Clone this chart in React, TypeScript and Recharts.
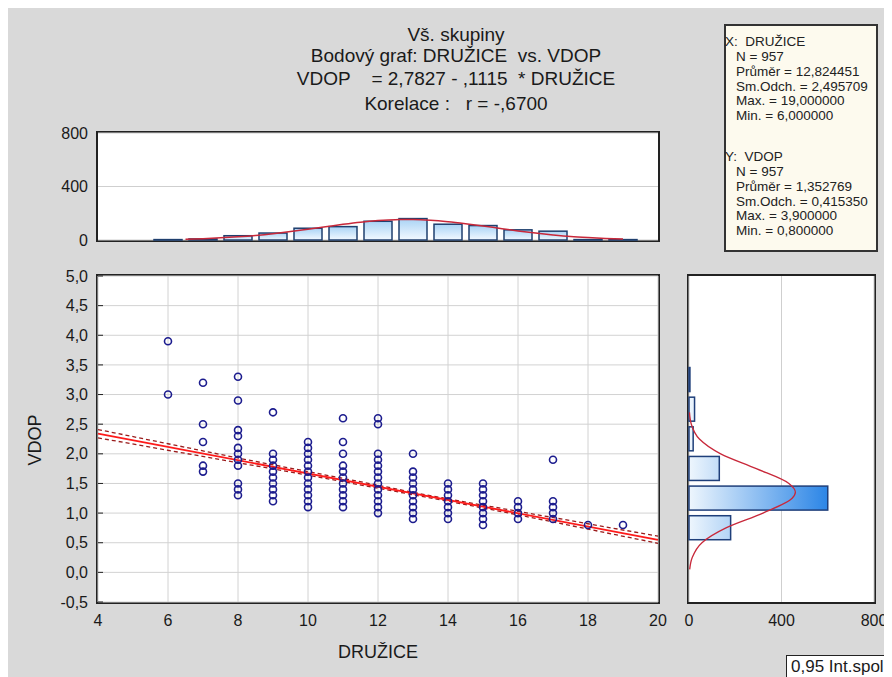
import { ComposedChart, Scatter, Line, Bar, XAxis, YAxis, CartesianGrid } from 'recharts';

const FONT = 'Arial, "Liberation Sans", sans-serif';

// title block
const titleLines = [
  'Vš. skupiny',
  'Bodový graf: DRUŽICE  vs. VDOP',
  'VDOP    = 2,7827 - ,1115  * DRUŽICE',
  'Korelace :   r = -,6700',
];

// descriptive stats box
const statsX = ['N = 957', 'Průměr = 12,824451', 'Sm.Odch. = 2,495709', 'Max. = 19,000000', 'Min. = 6,000000'];
const statsY = ['N = 957', 'Průměr = 1,352769', 'Sm.Odch. = 0,415350', 'Max. = 3,900000', 'Min. = 0,800000'];

// scatter: number of satellites vs VDOP (distinct values per column)
const satellites = [6, 7, 8, 9, 10, 11, 12, 13, 14, 15, 16, 17, 18, 19];
const vdopColumns = [
  [3.9, 3.0],
  [3.2, 2.5, 2.2, 1.8, 1.7],
  [3.3, 2.9, 2.4, 2.3, 2.1, 2.0, 1.9, 1.8, 1.5, 1.4, 1.3],
  [2.7, 2.0, 1.9, 1.8, 1.7, 1.6, 1.5, 1.4, 1.3, 1.2],
  [2.2, 2.1, 2.0, 1.9, 1.8, 1.7, 1.6, 1.5, 1.4, 1.3, 1.2, 1.1],
  [2.6, 2.2, 2.0, 1.8, 1.7, 1.6, 1.5, 1.4, 1.3, 1.2, 1.1],
  [2.6, 2.5, 2.0, 1.9, 1.8, 1.7, 1.6, 1.5, 1.4, 1.3, 1.2, 1.1, 1.0],
  [2.0, 1.7, 1.6, 1.5, 1.4, 1.3, 1.2, 1.1, 1.0, 0.9],
  [1.5, 1.4, 1.3, 1.2, 1.1, 1.0, 0.9],
  [1.5, 1.4, 1.3, 1.2, 1.1, 1.0, 0.9, 0.8],
  [1.2, 1.1, 1.0, 0.9],
  [1.9, 1.2, 1.1, 1.0, 0.9],
  [0.8],
  [0.8],
];

// regression line and 0.95 confidence band
const regX = [4, 20];
const regY = [2.34, 0.55];
const bandX = [4, 6, 8, 10, 12, 13, 14, 16, 18, 20];
const bandHi = [2.41, 2.17, 1.93, 1.70, 1.47, 1.35, 1.24, 1.03, 0.82, 0.61];
const bandLo = [2.27, 2.06, 1.85, 1.64, 1.42, 1.31, 1.20, 0.97, 0.73, 0.49];

// top histogram (DRUŽICE)
const satHistX = [6, 7, 8, 9, 10, 11, 12, 13, 14, 15, 16, 17, 18, 19];
const satHistN = [3, 8, 32, 52, 88, 100, 140, 160, 118, 108, 76, 66, 3, 3];
const satCurveX = [6.5, 7, 7.5, 8, 8.5, 9, 9.5, 10, 10.5, 11, 11.5, 12, 12.5, 13, 13.5, 14, 14.5, 15, 15.5, 16, 16.5, 17, 17.5, 18, 18.5, 19];
const satCurveN = [6, 10, 16, 24, 34, 47, 63, 81, 99, 117, 133, 145, 152, 153, 148, 137, 122, 105, 86, 68, 52, 38, 26, 18, 12, 7];

// right histogram (VDOP)
const vdopBinMid = [3.25, 2.75, 2.25, 1.75, 1.25, 0.75];
const vdopBinN = [4, 24, 18, 131, 600, 180];
const vdopCurveV = [0.05, 0.25, 0.5, 0.75, 1.0, 1.25, 1.35, 1.5, 1.75, 2.0, 2.25, 2.5, 2.7];
const vdopCurveN = [3, 14, 56, 160, 320, 446, 460, 432, 291, 137, 45, 10, 2];

// axis ticks
const xLabelTicks = [4, 6, 8, 10, 12, 14, 16, 18, 20];
const xMinorTicks = [4, 5, 6, 7, 8, 9, 10, 11, 12, 13, 14, 15, 16, 17, 18, 19, 20];
const yTicks = [-0.5, 0, 0.5, 1, 1.5, 2, 2.5, 3, 3.5, 4, 4.5, 5];
const countTicks = [0, 400, 800];

const points = satellites.flatMap((s, i) => vdopColumns[i].map((v) => ({ x: s, y: v })));
const regression = regX.map((x, i) => ({ x, y: regY[i] }));
const band = bandX.map((x, i) => ({ x, hi: bandHi[i], lo: bandLo[i] }));
const satHist = satHistX.map((x, i) => ({ x, n: satHistN[i] }));
const satCurve = satCurveX.map((x, i) => ({ x, n: satCurveN[i] }));
const vdopHist = vdopBinMid.map((v, i) => ({ v, n: vdopBinN[i] }));
const vdopCurve = vdopCurveV.map((v, i) => ({ v, n: vdopCurveN[i] }));

const comma = (v: number) => v.toFixed(1).replace('.', ',');
const tickStyle = { fontSize: 16, fill: '#1a1a1a', fontFamily: FONT };

const Ring = (p: any) => (
  <circle cx={p.cx} cy={p.cy} r={3.5} fill="none" stroke="#1c1c8e" strokeWidth={1.6} />
);

// bars keep the library's centre and length; only the thickness is fixed
const TopBar = (p: any) => (
  <rect x={p.x + p.width / 2 - 14} y={p.y} width={28} height={Math.max(p.height, 0.5)} fill="url(#gTop)" stroke="#1f3f6e" strokeWidth={1.5} />
);
const SideBar = (p: any) => {
  const cy = p.y + p.height / 2;
  return <rect x={p.x} y={cy - 12} width={Math.max(p.width, 0.5)} height={24} fill="url(#gRight)" stroke="#1f3f7a" strokeWidth={1.5} />;
};

function Frame({ left, top, width, height }: { left: number; top: number; width: number; height: number }) {
  return (
    <div
      style={{
        position: 'absolute', left: left - 2, top: top - 2, width: width + 4, height: height + 4,
        boxSizing: 'border-box', border: '2px solid #222', background: '#fff',
      }}
    />
  );
}

export default function App() {
  return (
    <div style={{ position: 'relative', width: 884, height: 669, background: '#d9d9d9', overflow: 'hidden', fontFamily: FONT, color: '#1a1a1a' }}>
      {titleLines.map((t, i) => (
        <div
          key={t}
          style={{ position: 'absolute', left: 448, top: [17, 38, 61, 86][i], transform: 'translateX(-50%)', fontSize: 19, whiteSpace: 'pre', lineHeight: '20px' }}
        >
          {t}
        </div>
      ))}

      {/* stats box */}
      <div style={{ position: 'absolute', left: 716, top: 16, width: 154, height: 228, boxSizing: 'border-box', border: '2px solid #333', background: '#fdfaee', fontSize: 13.5, lineHeight: '15px', whiteSpace: 'pre', color: '#222' }}>
        <div style={{ position: 'absolute', left: -1, top: 8 }}>{'X:  DRUŽICE'}</div>
        {statsX.map((s, i) => (
          <div key={'x' + i} style={{ position: 'absolute', left: 10, top: 23 + i * 14.8 }}>{s}</div>
        ))}
        <div style={{ position: 'absolute', left: -1, top: 123 }}>{'Y:  VDOP'}</div>
        {statsY.map((s, i) => (
          <div key={'y' + i} style={{ position: 'absolute', left: 10, top: 138 + i * 14.8 }}>{s}</div>
        ))}
      </div>

      {/* frames */}
      <Frame left={90} top={125} width={560} height={107} />
      <Frame left={90} top={268} width={560} height={326} />
      <Frame left={681} top={268} width={185} height={326} />

      {/* top histogram */}
      <div style={{ position: 'absolute', left: 0, top: 110 }}>
        <ComposedChart width={660} height={140} data={satHist} margin={{ top: 15, right: 10, bottom: 18, left: 0 }}>
          <defs>
            <linearGradient id="gTop" x1="0" y1="0" x2="0" y2="1">
              <stop offset="0" stopColor="#a9d3f5" />
              <stop offset="1" stopColor="#f3f9ff" />
            </linearGradient>
          </defs>
          <CartesianGrid vertical={false} stroke="#cfcfcf" />
          <XAxis xAxisId={0} type="number" dataKey="x" domain={[4, 20]} ticks={xLabelTicks} tick={false} axisLine={false} tickSize={-5} height={0} stroke="#222" />
          <XAxis xAxisId="top" orientation="top" type="number" dataKey="x" domain={[4, 20]} ticks={xLabelTicks} tick={false} axisLine={false} tickSize={5} mirror height={0} stroke="#222" />
          <YAxis type="number" domain={[0, 800]} ticks={countTicks} interval={0} width={90} tickLine={false} axisLine={false} tickSize={0} tickMargin={10} tick={tickStyle} />
          <Bar dataKey="n" shape={TopBar} isAnimationActive={false} />
          <Line data={satCurve} dataKey="n" type="monotone" stroke="#c8283a" strokeWidth={1.5} dot={false} activeDot={false} isAnimationActive={false} />
        </ComposedChart>
      </div>

      {/* scatter plot */}
      <div style={{ position: 'absolute', left: 0, top: 250 }}>
        <ComposedChart width={660} height={374} margin={{ top: 18, right: 10, bottom: 0, left: 0 }}>
          <CartesianGrid stroke="#d2d2d2" />
          <XAxis xAxisId="minor" type="number" dataKey="x" domain={[4, 20]} ticks={xMinorTicks} tick={false} axisLine={false} tickSize={-5} height={0} stroke="#222" />
          <XAxis xAxisId={0} type="number" dataKey="x" domain={[4, 20]} ticks={xLabelTicks} interval={0} height={30} tickLine={false} axisLine={false} tickSize={0} tickMargin={13} tick={tickStyle} />
          <YAxis yAxisId={0} type="number" domain={[-0.5, 5]} ticks={yTicks} interval={0} width={90} axisLine={false} tickSize={-5} tickMargin={15} tickFormatter={comma} tick={tickStyle} stroke="#222" />
          <YAxis yAxisId="right" orientation="right" type="number" domain={[-0.5, 5]} ticks={yTicks} width={0} mirror tick={false} axisLine={false} tickSize={5} stroke="#222" />
          <Line data={band} dataKey="hi" type="monotone" stroke="#9a1c1c" strokeWidth={1.3} strokeDasharray="4 3" dot={false} activeDot={false} isAnimationActive={false} />
          <Line data={band} dataKey="lo" type="monotone" stroke="#9a1c1c" strokeWidth={1.3} strokeDasharray="4 3" dot={false} activeDot={false} isAnimationActive={false} />
          <Line data={regression} dataKey="y" type="linear" stroke="#ff1a1a" strokeWidth={1.8} dot={false} activeDot={false} isAnimationActive={false} />
          <Scatter data={points} dataKey="y" shape={Ring} isAnimationActive={false} />
        </ComposedChart>
      </div>

      {/* right histogram */}
      <div style={{ position: 'absolute', left: 640, top: 250 }}>
        <ComposedChart layout="vertical" width={244} height={374} data={vdopHist} margin={{ top: 18, right: 18, bottom: 0, left: 41 }}>
          <defs>
            <linearGradient id="gRight" gradientUnits="userSpaceOnUse" x1={41} y1={0} x2={180} y2={0}>
              <stop offset="0" stopColor="#eef6fd" />
              <stop offset="1" stopColor="#2b85e6" />
            </linearGradient>
          </defs>
          <CartesianGrid horizontal={false} stroke="#cfcfcf" />
          <XAxis type="number" domain={[0, 800]} ticks={countTicks} interval={0} height={30} tickLine={false} axisLine={false} tickSize={0} tickMargin={13} tick={tickStyle} />
          <YAxis yAxisId={0} type="number" dataKey="v" domain={[-0.5, 5]} reversed ticks={yTicks} width={0} tick={false} axisLine={false} tickSize={-5} stroke="#222" />
          <YAxis yAxisId="right" orientation="right" type="number" domain={[-0.5, 5]} reversed ticks={yTicks} width={0} mirror tick={false} axisLine={false} tickSize={5} stroke="#222" />
          <Bar dataKey="n" shape={SideBar} isAnimationActive={false} />
          <Line data={vdopCurve} dataKey="n" type="monotone" stroke="#c8283a" strokeWidth={1.3} dot={false} activeDot={false} isAnimationActive={false} />
        </ComposedChart>
      </div>

      {/* axis titles */}
      <div style={{ position: 'absolute', left: 27, top: 432, transform: 'translate(-50%, -50%) rotate(-90deg)', fontSize: 18 }}>VDOP</div>
      <div style={{ position: 'absolute', left: 370, top: 644, transform: 'translate(-50%, -50%)', fontSize: 18 }}>DRUŽICE</div>

      {/* legend */}
      <div style={{ position: 'absolute', left: 778, top: 647, width: 130, height: 30, boxSizing: 'border-box', border: '1px solid #222', background: '#fff', fontSize: 17, lineHeight: '22px', paddingLeft: 4, whiteSpace: 'pre' }}>
        0,95 Int.spol.
      </div>
    </div>
  );
}
